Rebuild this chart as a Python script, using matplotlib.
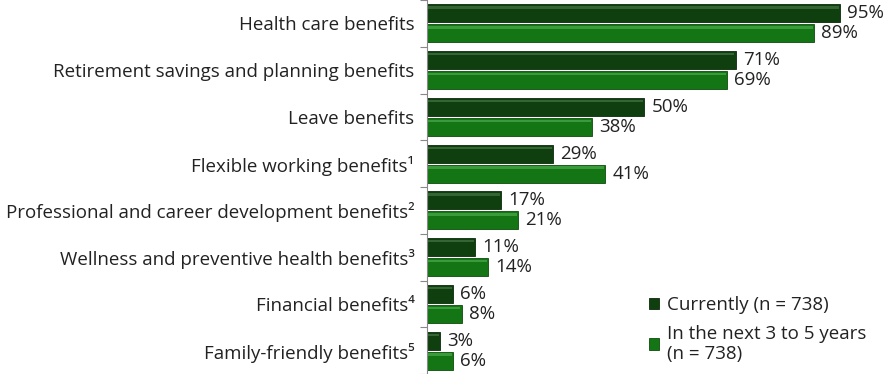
import matplotlib
matplotlib.use("Agg")
import matplotlib.pyplot as plt
import numpy as np

categories = [
    "Health care benefits",
    "Retirement savings and planning benefits",
    "Leave benefits",
    "Flexible working benefits\u00b9",
    "Professional and career development benefits\u00b2",
    "Wellness and preventive health benefits\u00b3",
    "Financial benefits\u2074",
    "Family-friendly benefits\u2075",
]
currently = [95, 71, 50, 29, 17, 11, 6, 3]
next_years = [89, 69, 38, 41, 21, 14, 8, 6]
series_labels = ["Currently (n = 738)", "In the next 3 to 5 years\n(n = 738)"]

plt.rcParams['font.family'] = ['Open Sans', 'DejaVu Sans']

fig = plt.figure(figsize=(8.88, 3.74), dpi=100)
ax = fig.add_axes([427/888, 0, (888-427)/888, 1])

n = len(categories)
y = np.arange(n)
h = 0.385
dark = "#0f3f0f"
light = "#137513"
b1 = ax.barh(y - h/2 - 0.02, currently, height=h, color=dark, edgecolor="#0a2a0a", linewidth=0.6, label=series_labels[0])
b2 = ax.barh(y + h/2 + 0.02, next_years, height=h, color=light, edgecolor="#0b4d0b", linewidth=0.6, label=series_labels[1])

# bevel highlight
for bars, hc in ((b1, "#3f6f3f"), (b2, "#45a545")):
    for r in bars:
        x0, y0 = r.get_x(), r.get_y()
        w, hh = r.get_width(), r.get_height()
        ax.fill_between([x0 + 0.3, x0 + w - 0.3], y0 + 0.04, y0 + 0.09, color=hc, lw=0, alpha=0.8)

fs = 13.5
for i in range(n):
    ax.text(currently[i] + 1.6, y[i] - h/2 - 0.02, f"{currently[i]}%", va="center", ha="left", fontsize=fs, color="#222222")
    ax.text(next_years[i] + 1.6, y[i] + h/2 + 0.02, f"{next_years[i]}%", va="center", ha="left", fontsize=fs, color="#222222")

ax.set_ylim(n - 0.5, -0.5)
ax.set_xlim(0, 106)
ax.set_yticks(y)
ax.set_yticklabels(categories, fontsize=fs, color="#222222")
ax.set_yticks(np.arange(-0.5, n, 1), minor=True)
ax.tick_params(axis="y", which="major", length=0, pad=9)
ax.tick_params(axis="y", which="minor", length=5, color="#888888", width=0.8)
ax.set_xticks([])
for s in ["top", "right", "bottom"]:
    ax.spines[s].set_visible(False)
ax.spines["left"].set_color("#888888")
ax.spines["left"].set_linewidth(0.8)

leg = ax.legend(handles=[b1, b2], loc="lower left", bbox_to_anchor=(0.445, -0.015), frameon=False,
                fontsize=fs, handlelength=0.55, handleheight=0.55, handletextpad=0.4, labelspacing=0.55)
for t in leg.get_texts():
    t.set_color("#222222")
    t.set_linespacing(1.15)

fig.savefig("out.png", dpi=100)
